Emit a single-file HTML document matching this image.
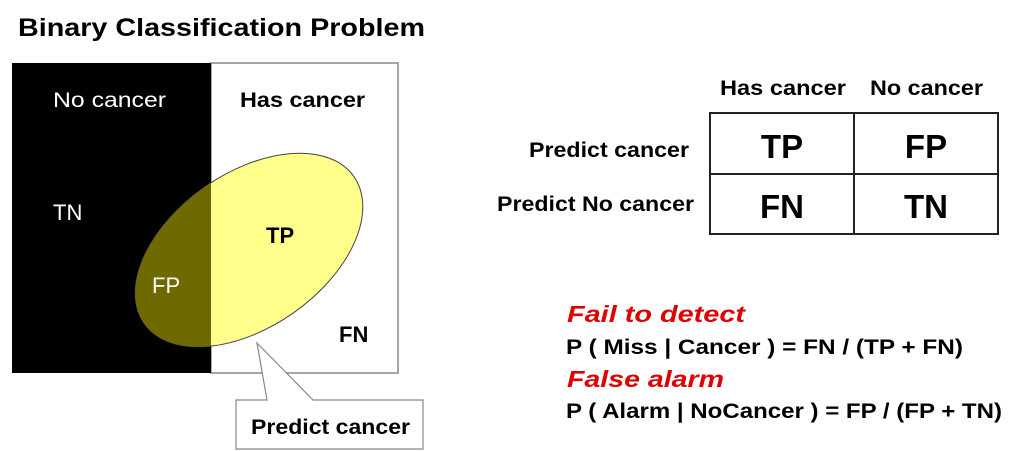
<!DOCTYPE html>
<html><head><meta charset="utf-8"><style>html,body{margin:0;padding:0;background:#fff}svg{display:block}</style></head>
<body>
<svg width="1024" height="451" viewBox="0 0 1024 451" xmlns="http://www.w3.org/2000/svg" font-family="Liberation Sans, Arial, sans-serif">
<text x="18" y="36" font-size="25" font-weight="bold" textLength="407" lengthAdjust="spacingAndGlyphs">Binary Classification Problem</text>
<rect x="211" y="63" width="187" height="310" fill="#fff" stroke="#888" stroke-width="1.5"/>
<rect x="12" y="63" width="199" height="310" fill="#000"/>
<defs><clipPath id="l"><rect x="0" y="0" width="211" height="451"/></clipPath></defs>
<g transform="translate(249,250) rotate(-35)">
<ellipse cx="0" cy="0" rx="128" ry="77" fill="#ffff8c" stroke="#444" stroke-width="1"/>
</g>
<g clip-path="url(#l)"><g transform="translate(249,250) rotate(-35)"><ellipse cx="0" cy="0" rx="128" ry="77" fill="#6e6a00"/></g></g>
<text x="53" y="107" font-size="21" fill="#fff" textLength="113" lengthAdjust="spacingAndGlyphs">No cancer</text>
<text x="240" y="107" font-size="21" font-weight="bold" textLength="125" lengthAdjust="spacingAndGlyphs">Has cancer</text>
<text x="53" y="220" font-size="22" fill="#fff">TN</text>
<text x="266" y="243" font-size="22" font-weight="bold">TP</text>
<text x="152" y="293" font-size="22" fill="#fff">FP</text>
<text x="339" y="342" font-size="22" font-weight="bold">FN</text>
<polygon points="257,343 267,400 236,400 236,449 423,449 423,400 313,400" fill="#fff" stroke="#888" stroke-width="1.2"/>
<text x="251" y="434" font-size="21" font-weight="bold" textLength="159" lengthAdjust="spacingAndGlyphs">Predict cancer</text>
<text x="720" y="95" font-size="21" font-weight="bold" textLength="126" lengthAdjust="spacingAndGlyphs">Has cancer</text>
<text x="870" y="95" font-size="21" font-weight="bold" textLength="113" lengthAdjust="spacingAndGlyphs">No cancer</text>
<text x="689" y="157" font-size="21" font-weight="bold" text-anchor="end" textLength="160" lengthAdjust="spacingAndGlyphs">Predict cancer</text>
<text x="694" y="211" font-size="21" font-weight="bold" text-anchor="end" textLength="197" lengthAdjust="spacingAndGlyphs">Predict No cancer</text>
<rect x="710" y="113" width="288" height="121" fill="#fff" stroke="#222" stroke-width="2"/>
<line x1="710" y1="174" x2="998" y2="174" stroke="#222" stroke-width="2"/>
<line x1="854" y1="113" x2="854" y2="234" stroke="#222" stroke-width="2"/>
<text x="782" y="158" font-size="33" font-weight="bold" text-anchor="middle">TP</text>
<text x="926" y="158" font-size="33" font-weight="bold" text-anchor="middle">FP</text>
<text x="782" y="218" font-size="33" font-weight="bold" text-anchor="middle">FN</text>
<text x="926" y="218" font-size="33" font-weight="bold" text-anchor="middle">TN</text>
<text x="567" y="322" font-size="23" font-weight="bold" font-style="italic" fill="#e00000" textLength="178" lengthAdjust="spacingAndGlyphs">Fail to detect</text>
<text x="566" y="354" font-size="21" font-weight="bold" textLength="397" lengthAdjust="spacingAndGlyphs">P ( Miss | Cancer ) = FN / (TP + FN)</text>
<text x="567" y="387" font-size="23" font-weight="bold" font-style="italic" fill="#e00000" textLength="157" lengthAdjust="spacingAndGlyphs">False alarm</text>
<text x="566" y="418" font-size="21" font-weight="bold" textLength="436" lengthAdjust="spacingAndGlyphs">P ( Alarm | NoCancer ) = FP / (FP + TN)</text>
</svg>
</body></html>
